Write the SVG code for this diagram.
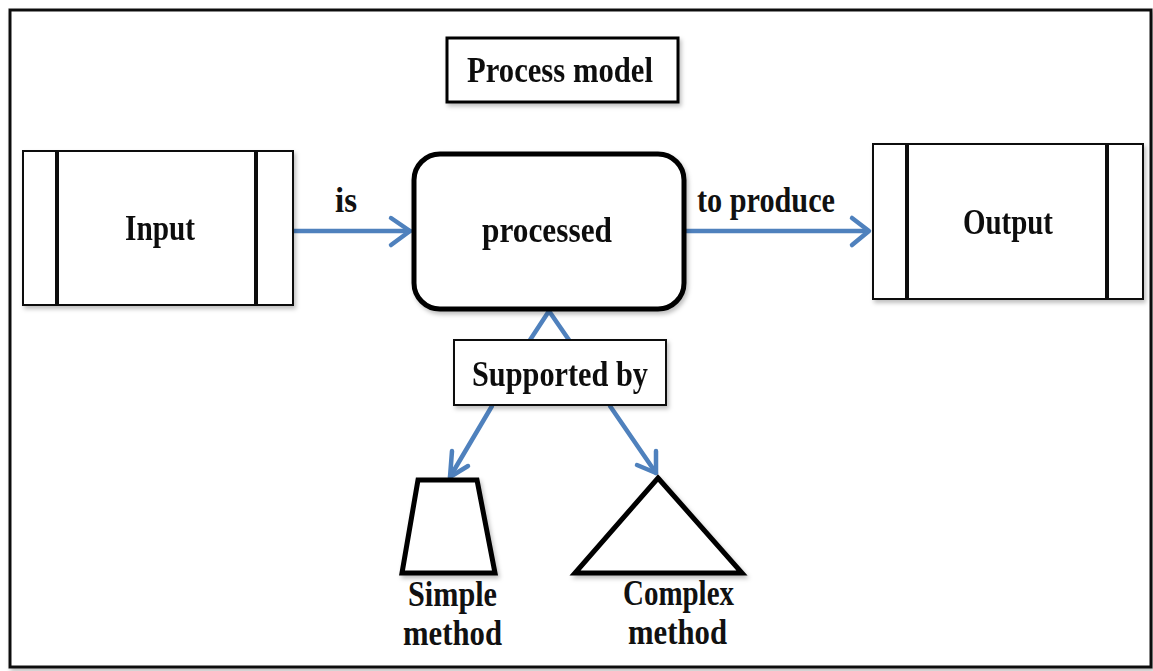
<svg xmlns="http://www.w3.org/2000/svg" width="1153" height="671" viewBox="0 0 1153 671">
<defs>
<filter id="sh" x="-10%" y="-10%" width="130%" height="130%">
<feDropShadow dx="2" dy="3" stdDeviation="2" flood-color="#000" flood-opacity="0.25"/>
</filter>
<style>
.t{font-family:"Liberation Serif","DejaVu Serif",serif;font-weight:bold;fill:#111;font-size:36px}
.box{fill:#fff;stroke:#111;stroke-width:2}
.bar{stroke:#111;stroke-width:4}
.thick{fill:#fff;stroke:#000;stroke-width:5;stroke-linejoin:miter}
.conn{fill:none;stroke:#4f81bd;stroke-width:4.5;stroke-linecap:round;stroke-linejoin:round}
</style>
</defs>
<rect x="0" y="0" width="1153" height="671" fill="#fff"/>
<rect x="10" y="10" width="1141" height="657" fill="#fff" stroke="#111" stroke-width="3" filter="url(#sh)"/>

<g id="process-model" filter="url(#sh)">
<rect x="447" y="38" width="231" height="64" fill="#fff" stroke="#000" stroke-width="3"/>
<text class="t" x="467" y="82" textLength="186" lengthAdjust="spacingAndGlyphs">Process model</text>
</g>

<g id="connectors">
<line class="conn" x1="294" y1="231" x2="410" y2="231"/>
<polyline class="conn" points="391,218 410,231 391,245"/>
<line class="conn" x1="686" y1="231" x2="868" y2="231"/>
<polyline class="conn" points="852,218 869,231 852,245"/>
<polyline class="conn" points="530,340 549,311 569,340"/>
<line class="conn" x1="492" y1="406" x2="450" y2="477"/>
<polyline class="conn" points="452,451 450,477 468,466"/>
<line class="conn" x1="610" y1="406" x2="656" y2="473"/>
<polyline class="conn" points="637,465 656,473 656,451"/>
</g>

<g id="input" filter="url(#sh)">
<rect class="box" x="23" y="151" width="270" height="154"/>
<line class="bar" x1="57" y1="151" x2="57" y2="305"/>
<line class="bar" x1="256" y1="151" x2="256" y2="305"/>
<text class="t" x="125" y="240" textLength="70" lengthAdjust="spacingAndGlyphs">Input</text>
</g>

<g id="processed" filter="url(#sh)">
<rect x="414" y="154" width="270" height="155" rx="26" ry="26" fill="#fff" stroke="#000" stroke-width="5"/>
<text class="t" x="482" y="242" textLength="130" lengthAdjust="spacingAndGlyphs">processed</text>
</g>

<g id="output" filter="url(#sh)">
<rect class="box" x="873" y="144" width="270" height="155"/>
<line class="bar" x1="907" y1="144" x2="907" y2="299"/>
<line class="bar" x1="1107" y1="144" x2="1107" y2="299"/>
<text class="t" x="963" y="234" textLength="90" lengthAdjust="spacingAndGlyphs">Output</text>
</g>

<g id="label-is">
<text class="t" x="335" y="212" textLength="22" lengthAdjust="spacingAndGlyphs">is</text>
</g>
<g id="label-to-produce">
<text class="t" x="697" y="212" textLength="138" lengthAdjust="spacingAndGlyphs">to produce</text>
</g>

<g id="supported-by" filter="url(#sh)">
<rect class="box" x="454" y="340" width="212" height="65"/>
<text class="t" x="472" y="386" textLength="176" lengthAdjust="spacingAndGlyphs">Supported by</text>
</g>

<g id="simple-method">
<polygon class="thick" points="418,480 477,480 495,573 402,573" filter="url(#sh)"/>
<text class="t" x="408" y="606" textLength="89" lengthAdjust="spacingAndGlyphs">Simple</text>
<text class="t" x="403" y="645" textLength="99" lengthAdjust="spacingAndGlyphs">method</text>
</g>

<g id="complex-method">
<polygon class="thick" points="658,478 742,573 575,573" filter="url(#sh)"/>
<text class="t" x="623" y="605" textLength="111" lengthAdjust="spacingAndGlyphs">Complex</text>
<text class="t" x="628" y="644" textLength="99" lengthAdjust="spacingAndGlyphs">method</text>
</g>
</svg>
